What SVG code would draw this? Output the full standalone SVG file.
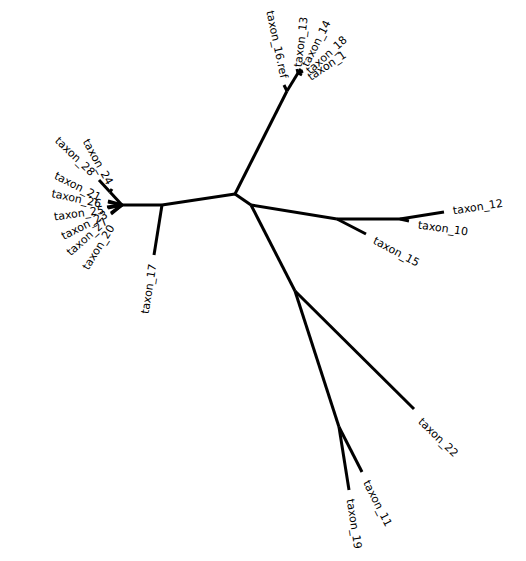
<svg xmlns="http://www.w3.org/2000/svg" width="526" height="561" viewBox="0 0 526 561">
  <style>
    .br { fill: none; stroke: #000; stroke-width: 3; stroke-linecap: butt; stroke-linejoin: round; }
    .lb { font-family: "DejaVu Sans", sans-serif; font-size: 11px; fill: #000; dominant-baseline: central; }
    .end { text-anchor: end; }
  </style>
  <rect width="526" height="561" fill="#fff"/>
  <g id="connectors">
    <!-- internal branches -->
    <path class="br" d="M235,194 L287,91"/>
    <path class="br" d="M235,194 L251,205"/>
    <path class="br" d="M235,194 L162,205"/>
    <path class="br" d="M251,205 L295,291"/>
    <path class="br" d="M251,205 L337,219"/>
    <path class="br" d="M337,219 L400,219"/>
    <path class="br" d="M295,291 L339,427"/>
    <path class="br" d="M162,205 L122,205"/>
    <path class="br" d="M287,91 L298,73"/>
    <path class="br" d="M122,205 L110,192"/>
    <!-- terminal branches -->
    <path class="br" d="M287,91 L284,85"/>
    <path class="br" d="M298,73 L297,69"/>
    <path class="br" d="M298,73 L301,69"/>
    <path class="br" d="M298,73 L303,71"/>
    <path class="br" d="M298,73 L302,75"/>
    <path class="br" d="M337,219 L366,234"/>
    <path class="br" d="M400,219 L444,212"/>
    <path class="br" d="M400,219 L409,221"/>
    <path class="br" d="M295,291 L414,409"/>
    <path class="br" d="M339,427 L362,472"/>
    <path class="br" d="M339,427 L349,490"/>
    <path class="br" d="M162,205 L154,255"/>
    <path class="br" d="M110,192 L99,180"/>
    <path class="br" d="M110,192 L112,189"/>
    <path class="br" d="M122,205 L108,201"/>
    <path class="br" d="M122,205 L108,202"/>
    <path class="br" d="M122,205 L107,207"/>
    <path class="br" d="M122,205 L108,208"/>
    <path class="br" d="M122,205 L111,213"/>
    <path class="br" d="M122,205 L111,214"/>
  </g>
  <g id="taxon_16_ref"><text class="lb end" transform="translate(284,78) rotate(78)">taxon_16.ref</text></g>
  <g id="taxon_13"><text class="lb" transform="translate(298,67) rotate(-83)">taxon_13</text></g>
  <g id="taxon_14"><text class="lb" transform="translate(305,66) rotate(-63)">taxon_14</text></g>
  <g id="taxon_18"><text class="lb" transform="translate(308,72) rotate(-42)">taxon_18</text></g>
  <g id="taxon_1"><text class="lb" transform="translate(309,78) rotate(-34)">taxon_1</text></g>
  <g id="taxon_12"><text class="lb" transform="translate(453,211) rotate(-9)">taxon_12</text></g>
  <g id="taxon_10"><text class="lb" transform="translate(418,225) rotate(8)">taxon_10</text></g>
  <g id="taxon_15"><text class="lb" transform="translate(374,240) rotate(28)">taxon_15</text></g>
  <g id="taxon_22"><text class="lb" transform="translate(420,420) rotate(44)">taxon_22</text></g>
  <g id="taxon_11"><text class="lb" transform="translate(366,481) rotate(63)">taxon_11</text></g>
  <g id="taxon_19"><text class="lb" transform="translate(350,499) rotate(81)">taxon_19</text></g>
  <g id="taxon_17"><text class="lb end" transform="translate(153,264) rotate(-81)">taxon_17</text></g>
  <g id="taxon_28"><text class="lb end" transform="translate(93,174) rotate(44)">taxon_28</text></g>
  <g id="taxon_24"><text class="lb end" transform="translate(110,184) rotate(61)">taxon_24</text></g>
  <g id="taxon_21"><text class="lb end" transform="translate(100,198) rotate(27)">taxon_21</text></g>
  <g id="taxon_26"><text class="lb end" transform="translate(101,204) rotate(12)">taxon_26</text></g>
  <g id="taxon_25"><text class="lb end" transform="translate(104,210) rotate(-8)">taxon_25</text></g>
  <g id="taxon_23"><text class="lb end" transform="translate(107,214) rotate(-27)">taxon_23</text></g>
  <g id="taxon_27"><text class="lb end" transform="translate(106,220) rotate(-42)">taxon_27</text></g>
  <g id="taxon_20"><text class="lb end" transform="translate(112,226) rotate(-58)">taxon_20</text></g>
</svg>
